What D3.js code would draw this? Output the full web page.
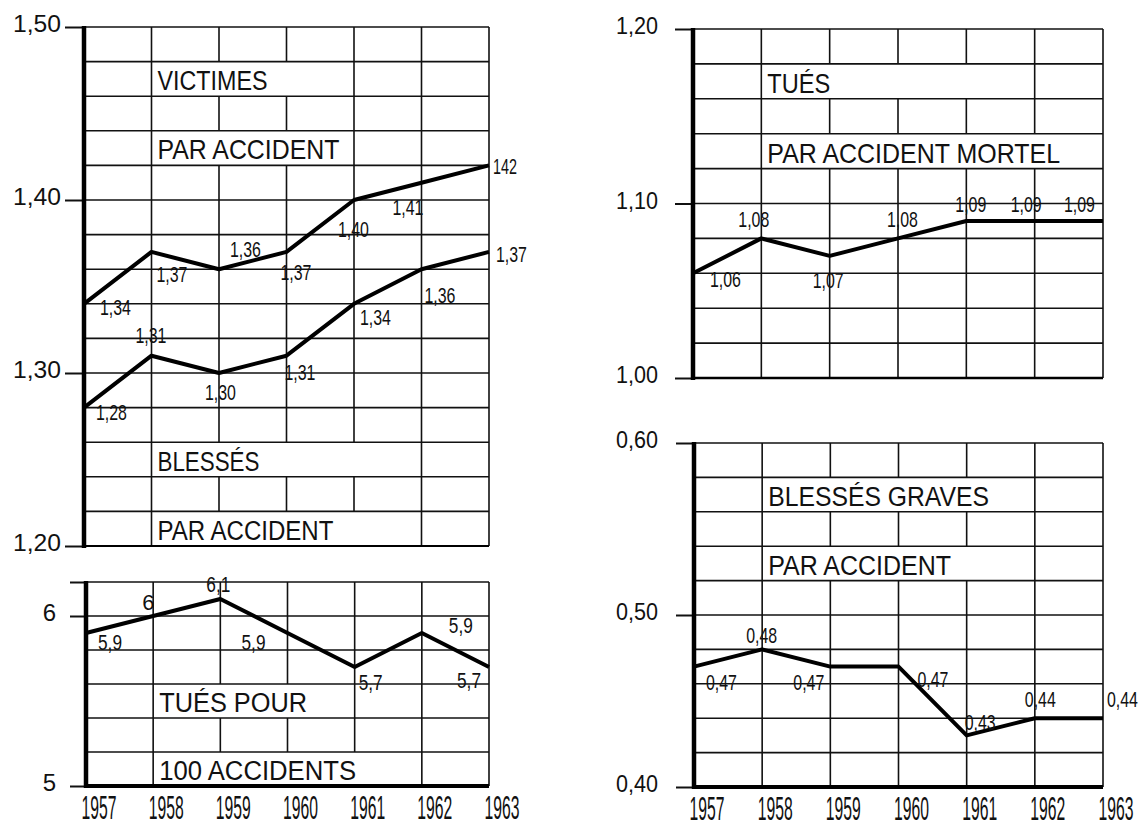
<!DOCTYPE html>
<html>
<head>
<meta charset="utf-8">
<script src="https://cdn.jsdelivr.net/npm/d3@7"></script>
<style>
  body { margin: 0; background: #fff; }
  svg text { font-family: "Liberation Sans Narrow", "Arial Narrow", "Liberation Sans", sans-serif; fill: #111; }
</style>
</head>
<body>
<div id="chart"></div>
<script>
// years on the x axis
var years = [1957, 1958, 1959, 1960, 1961, 1962, 1963];
var yearLabels = ["1957", "1958", "1959", "1960", "1961", "1962", "1963"];

// victimes / blessés par accident (top left)
var victimes = [1.34, 1.37, 1.36, 1.37, 1.40, 1.41, 1.42];
var victimesLabels = ["1,34", "1,37", "1,36", "1,37", "1,40", "1,41", "142"];
var blesses = [1.28, 1.31, 1.30, 1.31, 1.34, 1.36, 1.37];
var blessesLabels = ["1,28", "1,31", "1,30", "1,31", "1,34", "1,36", "1,37"];

// tués pour 100 accidents (bottom left)
var tues100 = [5.9, 6.0, 6.1, 5.9, 5.7, 5.9, 5.7];
var tues100Labels = ["5,9", "6", "6,1", "5,9", "5,7", "5,9", "5,7"];

// tués par accident mortel (top right)
var tuesMortel = [1.06, 1.08, 1.07, 1.08, 1.09, 1.09, 1.09];
var tuesMortelLabels = ["1,06", "1,08", "1,07", "1,08", "1,09", "1,09", "1,09"];

// blessés graves par accident (bottom right)
var graves = [0.47, 0.48, 0.47, 0.47, 0.43, 0.44, 0.44];
var gravesLabels = ["0,47", "0,48", "0,47", "0,47", "0,43", "0,44", "0,44"];

// y tick labels
var ticksVictimes = [1.20, 1.30, 1.40, 1.50];
var ticksVictimesLabels = ["1,20", "1,30", "1,40", "1,50"];
var ticksTues100 = [5, 6, 6.2];
var ticksTues100Labels = ["5", "6", ""];
var ticksMortel = [1.00, 1.10, 1.20];
var ticksMortelLabels = ["1,00", "1,10", "1,20"];
var ticksGraves = [0.40, 0.50, 0.60];
var ticksGravesLabels = ["0,40", "0,50", "0,60"];

// captions
var captionsVictimes = ["VICTIMES", "PAR ACCIDENT", "BLESSÉS", "PAR ACCIDENT"];
var captionsTues100 = ["TUÉS POUR", "100 ACCIDENTS"];
var captionsMortel = ["TUÉS", "PAR ACCIDENT MORTEL"];
var captionsGraves = ["BLESSÉS GRAVES", "PAR ACCIDENT"];

var svg = d3.select("#chart")
  .append("svg")
    .attr("width", 1147)
    .attr("height", 827);

var panels = [
  { left: 84, right: 489, top: 27, bottom: 546, domain: [1.20, 1.50], step: 0.02,
    ticks: ticksVictimes, tickLabels: ticksVictimesLabels, labelEnd: 61, tickLen: 19, tickTextLen: 48,
    baseWidth: 2, years: false,
    captions: [
      { text: captionsVictimes[0], rowTop: 1.48, rowBottom: 1.46, to: 1961, w: 110 },
      { text: captionsVictimes[1], rowTop: 1.44, rowBottom: 1.42, to: 1961, w: 182 },
      { text: captionsVictimes[2], rowTop: 1.26, rowBottom: 1.24, to: 1962, w: 102 },
      { text: captionsVictimes[3], rowTop: 1.22, rowBottom: 1.20, to: 1962, w: 176 }
    ],
    series: [
      { values: victimes, labels: victimesLabels,
        offsets: [[16, 11], [5, 30], [11, -12], [-6, 28], [-16, 37], [-29, 32], [4, 9]] },
      { values: blesses, labels: blessesLabels,
        offsets: [[12, 12], [-16, -13], [-14, 27], [-2, 24], [6, 21], [3, 34], [7, 10]] }
    ] },
  { left: 86, right: 489, top: 582, bottom: 786, domain: [5, 6.2], step: 0.2,
    ticks: ticksTues100, tickLabels: ticksTues100Labels, labelEnd: 56, tickLen: 16, tickTextLen: null,
    baseWidth: 4, years: true,
    captions: [
      { text: captionsTues100[0], rowTop: 5.6, rowBottom: 5.4, to: 1961, w: 148 },
      { text: captionsTues100[1], rowTop: 5.2, rowBottom: 5.0, to: 1962, w: 197 }
    ],
    series: [
      { values: tues100, labels: tues100Labels,
        offsets: [[12, 17], [-11, -6], [-14, -7], [-46, 17], [4, 23], [27, 0], [-32, 21]] }
    ] },
  { left: 693, right: 1103, top: 29, bottom: 378, domain: [1.00, 1.20], step: 0.02,
    ticks: ticksMortel, tickLabels: ticksMortelLabels, labelEnd: 658, tickLen: 18, tickTextLen: 42,
    baseWidth: 2.5, years: false,
    captions: [
      { text: captionsMortel[0], rowTop: 1.18, rowBottom: 1.16, to: 1962, w: 63 },
      { text: captionsMortel[1], rowTop: 1.14, rowBottom: 1.12, to: 1963, w: 293 }
    ],
    series: [
      { values: tuesMortel, labels: tuesMortelLabels,
        offsets: [[17, 14], [-23, -11], [-17, 32], [-11, -11], [-11, -9], [-24, -9], [-39, -9]] }
    ] },
  { left: 694, right: 1103, top: 443, bottom: 787, domain: [0.40, 0.60], step: 0.02,
    ticks: ticksGraves, tickLabels: ticksGravesLabels, labelEnd: 658, tickLen: 18, tickTextLen: 42,
    baseWidth: 4, years: true,
    captions: [
      { text: captionsGraves[0], rowTop: 0.58, rowBottom: 0.56, to: 1962, w: 221 },
      { text: captionsGraves[1], rowTop: 0.54, rowBottom: 0.52, to: 1962, w: 183 }
    ],
    series: [
      { values: graves, labels: gravesLabels,
        offsets: [[12, 23], [-16, -6], [-37, 23], [19, 20], [-2, -5], [-10, -11], [4, -11]] }
    ] }
];

// width of a small value label, by number of characters
function labelLength(t) {
  if (t.length >= 4) return 31;
  if (t.length === 3) return 24;
  return null;
}

// squeeze a text horizontally to a given width (hand lettering is narrow)
function squeeze(sel, w) {
  sel.each(function(d, i) {
    var t = d3.select(this);
    var target = typeof w === "function" ? w(d, i) : w;
    var len = this.getComputedTextLength();
    var sx = (target && len > 0) ? target / len : 1;
    var x = +t.attr("x") || 0, y = +t.attr("y") || 0;
    t.attr("x", 0).attr("y", 0)
      .attr("transform", "translate(" + x + "," + y + ") scale(" + sx + ",1)");
  });
}

function drawPanel(p) {
  var x = d3.scaleLinear().domain([years[0], years[years.length - 1]]).range([p.left, p.right]);
  var y = d3.scaleLinear().domain(p.domain).range([p.bottom, p.top]);
  var g = svg.append("g");

  var n = Math.round((p.domain[1] - p.domain[0]) / p.step);
  var grid = d3.range(n + 1).map(function(i) { return p.domain[0] + i * p.step; });

  // vertical grid lines
  g.selectAll(null)
    .data(years.slice(1))
    .enter()
    .append("line")
      .attr("x1", function(d) { return x(d); })
      .attr("x2", function(d) { return x(d); })
      .attr("y1", y(p.domain[1]))
      .attr("y2", y(p.domain[0]))
      .attr("stroke", "#111")
      .attr("stroke-width", 1.6);

  // white boxes behind the captions (hide the vertical lines)
  g.selectAll(null)
    .data(p.captions)
    .enter()
    .append("rect")
      .attr("x", x(years[1]) + 1.5)
      .attr("width", function(d) { return x(d.to) - x(years[1]) - 3; })
      .attr("y", function(d) { return y(d.rowTop); })
      .attr("height", function(d) { return y(d.rowBottom) - y(d.rowTop); })
      .attr("fill", "#fff");

  // horizontal grid lines
  g.selectAll(null)
    .data(grid)
    .enter()
    .append("line")
      .attr("x1", x(years[0]))
      .attr("x2", x(years[years.length - 1]))
      .attr("y1", function(d) { return y(d); })
      .attr("y2", function(d) { return y(d); })
      .attr("stroke", "#111")
      .attr("stroke-width", 1.6);

  // captions
  g.selectAll(null)
    .data(p.captions)
    .enter()
    .append("text")
      .attr("x", x(years[1]) + 6)
      .attr("y", function(d) { return y(d.rowBottom) - 6; })
      .attr("font-size", 28)
      .text(function(d) { return d.text; })
      .call(squeeze, function(d) { return d.w; });

  // y axis: ticks + labels
  var ax = g.append("g")
    .attr("transform", "translate(" + p.left + ",0)")
    .call(d3.axisLeft(y)
      .tickValues(p.ticks)
      .tickSize(p.tickLen)
      .tickPadding(p.left - p.tickLen - p.labelEnd)
      .tickFormat(function(d, i) { return p.tickLabels[i]; }));
  ax.attr("font-family", null).attr("font-size", null);
  ax.select(".domain").remove();
  ax.selectAll("line").attr("stroke", "#111").attr("stroke-width", 2);
  ax.selectAll("text")
    .attr("dy", "0.2em")
    .attr("font-size", 24)
    .attr("fill", "#111")
    .call(squeeze, p.tickTextLen);

  // thick vertical axis and base line
  g.append("line")
    .attr("x1", x(years[0])).attr("x2", x(years[0]))
    .attr("y1", y(p.domain[1]) - 1).attr("y2", y(p.domain[0]) + 2)
    .attr("stroke", "#000").attr("stroke-width", 4.5);
  g.append("line")
    .attr("x1", x(years[0])).attr("x2", x(years[years.length - 1]))
    .attr("y1", y(p.domain[0])).attr("y2", y(p.domain[0]))
    .attr("stroke", "#000").attr("stroke-width", p.baseWidth);

  // year labels
  if (p.years) {
    var xa = g.append("g")
      .attr("transform", "translate(0," + p.bottom + ")")
      .call(d3.axisBottom(x)
        .tickValues(years)
        .tickSize(0)
        .tickFormat(function(d, i) { return yearLabels[i]; }));
    xa.attr("font-family", null).attr("font-size", null);
    xa.select(".domain").remove();
    xa.selectAll("text")
      .attr("text-anchor", "start")
      .attr("x", -5)
      .attr("y", 33)
      .attr("dy", 0)
      .attr("font-size", 34)
      .attr("fill", "#111")
      .call(squeeze, 35);
  }

  // series lines and value labels
  p.series.forEach(function(s) {
    var line = d3.line()
      .x(function(d, i) { return x(years[i]); })
      .y(function(d) { return y(d); });
    g.append("path")
      .datum(s.values)
      .attr("d", line)
      .attr("fill", "none")
      .attr("stroke", "#000")
      .attr("stroke-width", 4)
      .attr("stroke-linejoin", "round");

    g.selectAll(null)
      .data(s.values)
      .enter()
      .append("text")
        .attr("x", function(d, i) { return x(years[i]) + s.offsets[i][0]; })
        .attr("y", function(d, i) { return y(d) + s.offsets[i][1]; })
        .attr("font-size", 22)
        .text(function(d, i) { return s.labels[i]; })
        .call(squeeze, function(d, i) { return labelLength(s.labels[i]); });
  });
}

panels.forEach(drawPanel);
</script>
</body>
</html>
